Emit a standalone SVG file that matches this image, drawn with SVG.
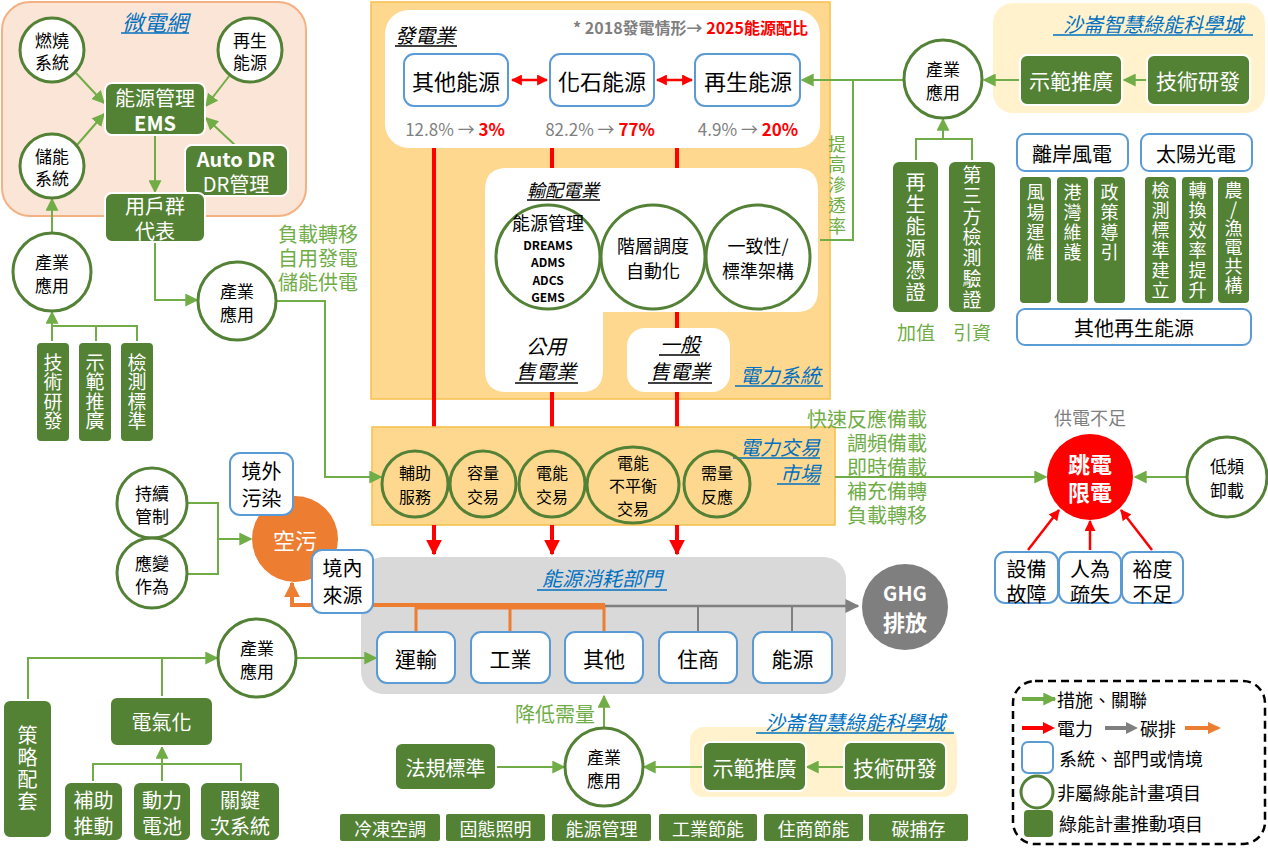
<svg xmlns="http://www.w3.org/2000/svg" width="1268" height="851" viewBox="0 0 1268 851">
<style>
text{font-family:'Noto Sans CJK TC','Noto Sans',sans-serif;dominant-baseline:central;text-anchor:middle;fill:#000}
.v{writing-mode:vertical-rl;text-orientation:upright}
.w{fill:#fff}.gt{fill:#70ad47}.gy{fill:#7f7f7f}.rd{fill:#ff0000}
.bt{fill:#0070c0;font-style:italic}.it{font-style:italic}.b{font-weight:bold}
.f12{font-size:12px}.f16{font-size:16px}.f17{font-size:17px}.f18{font-size:18px}.f19{font-size:19px}.f20{font-size:20px}.f21{font-size:21px}.f22{font-size:22px}
.gb{fill:#548235;stroke:#fff;stroke-width:2}
.gc{fill:#fff;stroke:#538135;stroke-width:3}
.gco{fill:none;stroke:#538135;stroke-width:3}
.bb{fill:#fff;stroke:#5b9bd5;stroke-width:2}
.gl{fill:none;stroke:#70ad47;stroke-width:2}
.ga{fill:none;stroke:#70ad47;stroke-width:2;marker-end:url(#ag)}
.ra{fill:none;stroke:#ff0000;stroke-width:4;marker-end:url(#ar)}
.ra2{fill:none;stroke:#ff0000;stroke-width:2.5;marker-end:url(#ar2)}
.ulb{stroke:#0070c0;stroke-width:1.5}
.ulk{stroke:#000;stroke-width:1.5}
.sa{text-anchor:start}.ea{text-anchor:end}
</style>
<defs>
<marker id="ag" viewBox="0 0 10 10" refX="9" refY="5" markerWidth="13" markerHeight="13" markerUnits="userSpaceOnUse" orient="auto-start-reverse"><path d="M0,0 L10,5 L0,10z" fill="#70ad47"/></marker>
<marker id="ar" viewBox="0 0 10 10" refX="9" refY="5" markerWidth="16" markerHeight="16" markerUnits="userSpaceOnUse" orient="auto-start-reverse"><path d="M0,0 L10,5 L0,10z" fill="#ff0000"/></marker>
<marker id="ar2" viewBox="0 0 10 10" refX="9" refY="5" markerWidth="11" markerHeight="11" markerUnits="userSpaceOnUse" orient="auto-start-reverse"><path d="M0,0 L10,5 L0,10z" fill="#ff0000"/></marker>
<marker id="agr" viewBox="0 0 10 10" refX="9" refY="5" markerWidth="14" markerHeight="14" markerUnits="userSpaceOnUse" orient="auto-start-reverse"><path d="M0,0 L10,5 L0,10z" fill="#7f7f7f"/></marker>
<marker id="ao" viewBox="0 0 10 10" refX="9" refY="5" markerWidth="16" markerHeight="16" markerUnits="userSpaceOnUse" orient="auto-start-reverse"><path d="M0,0 L10,5 L0,10z" fill="#ed7d31"/></marker>
</defs>

<!-- Background panels -->
<g id="microgrid">
<rect x="2" y="2" width="304" height="214" rx="28" fill="#fbe5d6" stroke="#f4b183" stroke-width="2"/>
<text x="155" y="21" class="bt f22">微電網</text>
<line x1="121" y1="33" x2="189" y2="33" class="ulb"/>
</g>
<g id="power-system">
<rect x="371" y="2" width="459" height="397" fill="#ffd88f" stroke="#f6c04c" stroke-width="1.5"/>
<line x1="434" y1="148" x2="434" y2="428" stroke="#ff0000" stroke-width="4"/>
<line x1="552" y1="148" x2="552" y2="428" stroke="#ff0000" stroke-width="4"/>
<line x1="677" y1="148" x2="677" y2="428" stroke="#ff0000" stroke-width="4"/>
<rect x="385" y="10" width="435" height="138" rx="24" fill="#fff"/>
<path d="M507,168 H796 Q818,168 818,190 V290 Q818,312 796,312 H603 V370 Q603,392 581,392 H507 Q485,392 485,370 V190 Q485,168 507,168 Z" fill="#fff"/>
<rect x="627" y="328" width="103" height="64" rx="18" fill="#fff"/>
<text x="395" y="34" class="it f20 sa">發電業</text>
<line x1="395" y1="46" x2="457" y2="46" class="ulk"/>
<text x="808" y="27" class="f16 b ea"><tspan class="gy">* 2018發電情形→ </tspan><tspan class="rd">2025能源配比</tspan></text>
<text x="563" y="189" class="it f18">輸配電業</text>
<line x1="527" y1="200" x2="600" y2="200" class="ulk"/>
<text x="546" y="345" class="it f20">公用</text>
<text x="546" y="370" class="it f20">售電業</text>
<line x1="515" y1="383" x2="578" y2="383" class="ulk"/>
<text x="680" y="343" class="it f20">一般</text>
<line x1="659" y1="355" x2="700" y2="355" class="ulk"/>
<text x="680" y="370" class="it f20">售電業</text>
<line x1="648" y1="383" x2="712" y2="383" class="ulk"/>
<text x="780" y="374" class="bt f20">電力系統</text>
<line x1="735" y1="386" x2="823" y2="386" class="ulb"/>
</g>
<g id="shalun-top">
<rect x="993" y="3" width="272" height="110" rx="20" fill="#fff2cc"/>
<text x="1153" y="23" class="bt f20">沙崙智慧綠能科學城</text>
<line x1="1053" y1="35" x2="1253" y2="35" class="ulb"/>
</g>
<g id="market">
<rect x="372" y="427" width="463" height="98" fill="#ffd88f" stroke="#f5bf47" stroke-width="1.5"/>
<text x="820" y="446" class="bt f20 ea">電力交易</text>
<line x1="733" y1="458" x2="820" y2="458" class="ulb"/>
<text x="820" y="472" class="bt f20 ea">市場</text>
<line x1="777" y1="484" x2="820" y2="484" class="ulb"/>
</g>
<g id="consumption">
<rect x="361" y="557" width="485" height="137" rx="22" fill="#d9d9d9"/>
<text x="602" y="577" class="bt f20">能源消耗部門</text>
<line x1="537" y1="590" x2="667" y2="590" class="ulb"/>
</g>
<g id="shalun-bottom">
<rect x="690" y="727" width="267" height="70" rx="14" fill="#fff2cc"/>
<text x="855" y="721" class="bt f20">沙崙智慧綠能科學城</text>
<line x1="756" y1="733" x2="954" y2="733" class="ulb"/>
</g>

<!-- connectors -->
<g id="connectors">
<line x1="76" y1="73" x2="104" y2="103" class="ga"/>
<line x1="230" y1="75" x2="206" y2="106" class="ga"/>
<line x1="77" y1="145" x2="104" y2="114" class="ga"/>
<line x1="236" y1="146" x2="206" y2="118" class="ga"/>
<line x1="155" y1="135" x2="155" y2="192" class="ga"/>
<line x1="52" y1="233" x2="52" y2="199" class="ga"/>
<polyline points="52,342 52,326 137,326 137,342" class="gl"/>
<line x1="96" y1="326" x2="96" y2="342" class="gl"/>
<line x1="52" y1="326" x2="52" y2="312" class="ga"/>
<polyline points="155,242 155,300 197,300" class="ga"/>
<polyline points="276,301 325,301 325,477 381,477" class="ga"/>
<line x1="512" y1="80" x2="547" y2="80" class="ra2" marker-start="url(#ar2)"/>
<line x1="657" y1="80" x2="692" y2="80" class="ra2" marker-start="url(#ar2)"/>
<line x1="904" y1="80" x2="802" y2="80" class="ga"/>
<polyline points="853,80 853,240 820,240" class="gl"/>
<line x1="1147" y1="80" x2="1124" y2="80" class="ga"/>
<line x1="1020" y1="80" x2="984" y2="80" class="ga"/>
<polyline points="916,161 916,139 972,139 972,161" class="gl"/>
<line x1="943" y1="139" x2="943" y2="119" class="ga"/>
<line x1="434" y1="525" x2="434" y2="554" class="ra"/>
<line x1="552" y1="525" x2="552" y2="554" class="ra"/>
<line x1="677" y1="525" x2="677" y2="554" class="ra"/>
<line x1="835" y1="477" x2="1046" y2="477" class="ga"/>
<line x1="1187" y1="477" x2="1135" y2="477" class="ga"/>
<line x1="1028" y1="550" x2="1059" y2="510" class="ra2"/>
<line x1="1090" y1="550" x2="1090" y2="521" class="ra2"/>
<line x1="1152" y1="550" x2="1121" y2="510" class="ra2"/>
<polyline points="187,503 218,503 218,574 187,574" class="gl"/>
<line x1="218" y1="539" x2="251" y2="539" class="ga"/>
<line x1="605" y1="606" x2="858" y2="606" stroke="#7f7f7f" stroke-width="2.5" marker-end="url(#agr)"/>
<line x1="698" y1="606" x2="698" y2="632" stroke="#7f7f7f" stroke-width="2"/>
<line x1="792" y1="606" x2="792" y2="632" stroke="#7f7f7f" stroke-width="2"/>
<polyline points="416,632 416,608 604,608 604,632" fill="none" stroke="#ed7d31" stroke-width="3"/>
<line x1="510" y1="608" x2="510" y2="632" stroke="#ed7d31" stroke-width="3"/>
<polyline points="605,605 292,605 292,583" fill="none" stroke="#ed7d31" stroke-width="4" marker-end="url(#ao)"/>
<polyline points="28,700 28,658 217,658" class="ga"/>
<line x1="162" y1="697" x2="162" y2="658" class="gl"/>
<line x1="297" y1="658" x2="376" y2="658" class="ga"/>
<polyline points="93,782 93,764 241,764 241,782" class="gl"/>
<line x1="162" y1="782" x2="162" y2="764" class="gl"/>
<line x1="162" y1="764" x2="162" y2="747" class="ga"/>
<line x1="604" y1="728" x2="604" y2="696" class="ga"/>
<line x1="496" y1="767" x2="564" y2="767" class="ga"/>
<line x1="844" y1="767" x2="807" y2="767" class="ga"/>
<line x1="703" y1="767" x2="644" y2="767" class="ga"/>
</g>

<!-- Microgrid nodes -->
<g id="mg-burn"><circle cx="52" cy="50" r="32" class="gc"/><text x="52" y="39" class="f17">燃燒</text><text x="52" y="61" class="f17">系統</text></g>
<g id="mg-renew"><circle cx="250" cy="50" r="32" class="gc"/><text x="250" y="39" class="f17">再生</text><text x="250" y="61" class="f17">能源</text></g>
<g id="mg-storage"><circle cx="52" cy="166" r="32" class="gc"/><text x="52" y="155" class="f17">儲能</text><text x="52" y="177" class="f17">系統</text></g>
<g id="mg-ems"><rect x="105" y="83" width="100" height="52" rx="7" class="gb"/><text x="155" y="97" class="w f20">能源管理</text><text x="155" y="122" class="w f20 b">EMS</text></g>
<g id="mg-autodr"><rect x="185" y="145" width="103" height="51" rx="7" class="gb"/><text x="236" y="158" class="w f20 b">Auto DR</text><text x="236" y="183" class="w f20">DR管理</text></g>
<g id="mg-users"><rect x="105" y="193" width="100" height="49" rx="7" class="gb"/><text x="155" y="205" class="w f20">用戶群</text><text x="155" y="230" class="w f20">代表</text></g>

<!-- Left industry -->
<g id="ind-left"><circle cx="52" cy="272" r="39" class="gc"/><text x="52" y="261" class="f17">產業</text><text x="52" y="284" class="f17">應用</text></g>
<g id="box-tech1"><rect x="36" y="342" width="34" height="100" rx="5" class="gb"/><text x="53" y="392" class="v w f19" letter-spacing="0.5">技術研發</text></g>
<g id="box-demo1"><rect x="78" y="342" width="34" height="100" rx="5" class="gb"/><text x="95" y="392" class="v w f19" letter-spacing="0.5">示範推廣</text></g>
<g id="box-std1"><rect x="120" y="342" width="34" height="100" rx="5" class="gb"/><text x="137" y="392" class="v w f19" letter-spacing="0.5">檢測標準</text></g>
<g id="ind-mid"><circle cx="237" cy="301" r="39" class="gc"/><text x="237" y="290" class="f17">產業</text><text x="237" y="313" class="f17">應用</text></g>
<g id="lbl-load">
<text x="278" y="233" class="gt f20 sa">負載轉移</text>
<text x="278" y="257" class="gt f20 sa">自用發電</text>
<text x="278" y="281" class="gt f20 sa">儲能供電</text>
</g>

<!-- Power system nodes -->
<g id="gen-other"><rect x="404" y="54" width="104" height="52" rx="10" class="bb"/><text x="456" y="80" class="f22">其他能源</text>
<text x="455" y="128" class="f17"><tspan class="gy">12.8% → </tspan><tspan class="rd b">3%</tspan></text></g>
<g id="gen-fossil"><rect x="550" y="54" width="104" height="52" rx="10" class="bb"/><text x="602" y="80" class="f22">化石能源</text>
<text x="600" y="128" class="f17"><tspan class="gy">82.2% → </tspan><tspan class="rd b">77%</tspan></text></g>
<g id="gen-renew"><rect x="695" y="54" width="105" height="52" rx="10" class="bb"/><text x="748" y="80" class="f22">再生能源</text>
<text x="748" y="128" class="f17"><tspan class="gy">4.9% → </tspan><tspan class="rd b">20%</tspan></text></g>
<g id="td-ems"><circle cx="548" cy="257" r="52" class="gc"/>
<text x="548" y="222" class="f18">能源管理</text>
<text x="548" y="244" class="f12 b">DREAMS</text><text x="548" y="261" class="f12 b">ADMS</text><text x="548" y="279" class="f12 b">ADCS</text><text x="548" y="296" class="f12 b">GEMS</text></g>
<g id="td-auto"><circle cx="653" cy="257" r="52" class="gc"/><text x="653" y="245" class="f18">階層調度</text><text x="653" y="270" class="f18">自動化</text></g>
<g id="td-std"><circle cx="758" cy="257" r="52" class="gc"/><text x="758" y="245" class="f18">一致性/</text><text x="758" y="270" class="f18">標準架構</text></g>
<text id="lbl-pen" x="837" y="186" class="v gt f18" letter-spacing="2.5">提高滲透率</text>

<!-- Top right nodes -->
<g id="demo-top"><rect x="1020" y="55" width="102" height="50" rx="7" class="gb"/><text x="1071" y="80" class="w f21">示範推廣</text></g>
<g id="tech-top"><rect x="1147" y="55" width="103" height="50" rx="7" class="gb"/><text x="1198" y="80" class="w f21">技術研發</text></g>
<g id="ind-top"><circle cx="943" cy="79" r="39" class="gc"/><text x="943" y="68" class="f17">產業</text><text x="943" y="91" class="f17">應用</text></g>
<g id="box-cert"><rect x="892" y="161" width="47" height="152" rx="7" class="gb"/><text x="915.5" y="238" class="v w f20" letter-spacing="2">再生能源憑證</text></g>
<g id="box-test"><rect x="948" y="161" width="48" height="152" rx="7" class="gb"/><text x="972" y="238" class="v w f19" letter-spacing="1.8">第三方檢測驗證</text></g>
<text x="916" y="331" class="gt f19">加值</text>
<text x="972" y="331" class="gt f19">引資</text>
<g id="offshore"><rect x="1017" y="134" width="111" height="37" rx="8" class="bb"/><text x="1072" y="153" class="f20">離岸風電</text></g>
<g id="solar"><rect x="1141" y="134" width="111" height="37" rx="8" class="bb"/><text x="1196" y="153" class="f20">太陽光電</text></g>
<g id="v-wind1"><rect x="1019" y="176" width="33" height="128" rx="5" class="gb"/><text x="1035.5" y="223" class="v w f18" letter-spacing="2">風場運維</text></g>
<g id="v-wind2"><rect x="1056" y="176" width="33" height="128" rx="5" class="gb"/><text x="1072.5" y="223" class="v w f18" letter-spacing="2">港灣維護</text></g>
<g id="v-wind3"><rect x="1093" y="176" width="33" height="128" rx="5" class="gb"/><text x="1109.5" y="223" class="v w f18" letter-spacing="2">政策導引</text></g>
<g id="v-solar1"><rect x="1144" y="176" width="33" height="128" rx="5" class="gb"/><text x="1160.5" y="241" class="v w f18" letter-spacing="2">檢測標準建立</text></g>
<g id="v-solar2"><rect x="1181" y="176" width="33" height="128" rx="5" class="gb"/><text x="1197.5" y="241" class="v w f18" letter-spacing="2">轉換效率提升</text></g>
<g id="v-solar3"><rect x="1217" y="176" width="33" height="128" rx="5" class="gb"/><text x="1233.5" y="238" class="v w f18" letter-spacing="1">農/漁電共構</text></g>
<g id="other-renew"><rect x="1017" y="309" width="234" height="36" rx="8" class="bb"/><text x="1134" y="327" class="f20">其他再生能源</text></g>

<!-- Market nodes -->
<g id="mk-aux"><circle cx="415" cy="484" r="33" class="gco"/><text x="415" y="472" class="f16">輔助</text><text x="415" y="496" class="f16">服務</text></g>
<g id="mk-cap"><circle cx="483" cy="484" r="33" class="gco"/><text x="483" y="472" class="f16">容量</text><text x="483" y="496" class="f16">交易</text></g>
<g id="mk-energy"><circle cx="552" cy="484" r="33" class="gco"/><text x="552" y="472" class="f16">電能</text><text x="552" y="496" class="f16">交易</text></g>
<g id="mk-imb"><ellipse cx="633" cy="485" rx="46" ry="38" class="gco"/><text x="633" y="462" class="f16">電能</text><text x="633" y="485" class="f16">不平衡</text><text x="633" y="508" class="f16">交易</text></g>
<g id="mk-dr"><circle cx="717" cy="484" r="33" class="gco"/><text x="717" y="472" class="f16">需量</text><text x="717" y="496" class="f16">反應</text></g>
<g id="lbl-reserve">
<text x="927" y="418" class="gt f20 ea">快速反應備載</text>
<text x="927" y="442" class="gt f20 ea">調頻備載</text>
<text x="927" y="466" class="gt f20 ea">即時備載</text>
<text x="927" y="490" class="gt f20 ea">補充備轉</text>
<text x="927" y="514" class="gt f20 ea">負載轉移</text>
</g>

<!-- Blackout -->
<text x="1090" y="417" class="gy f18">供電不足</text>
<g id="blackout"><circle cx="1090" cy="477" r="43" fill="#ff0000"/><text x="1090" y="463" class="w f22 b">跳電</text><text x="1090" y="491" class="w f22 b">限電</text></g>
<g id="ufls"><circle cx="1227" cy="477" r="40" class="gc"/><text x="1227" y="465" class="f17">低頻</text><text x="1227" y="489" class="f17">卸載</text></g>
<g id="c-equip"><rect x="995" y="552" width="63" height="51" rx="10" class="bb"/><text x="1026.5" y="568" class="f20">設備</text><text x="1026.5" y="593" class="f20">故障</text></g>
<g id="c-human"><rect x="1059" y="552" width="62" height="51" rx="10" class="bb"/><text x="1090" y="568" class="f20">人為</text><text x="1090" y="593" class="f20">疏失</text></g>
<g id="c-margin"><rect x="1122" y="552" width="61" height="51" rx="10" class="bb"/><text x="1152.5" y="568" class="f20">裕度</text><text x="1152.5" y="593" class="f20">不足</text></g>

<!-- Air pollution -->
<g id="airpol"><circle cx="295" cy="539" r="43" fill="#ed7d31"/><text x="295" y="539" class="w f22">空污</text></g>
<g id="ext-pol"><rect x="230" y="453" width="63" height="62" rx="10" class="bb"/><text x="261.5" y="470" class="f20">境外</text><text x="261.5" y="497" class="f20">污染</text></g>
<g id="int-src"><rect x="312" y="550" width="61" height="63" rx="10" class="bb"/><text x="342.5" y="567" class="f20">境內</text><text x="342.5" y="594" class="f20">來源</text></g>
<g id="control"><circle cx="152" cy="503" r="35" class="gc"/><text x="152" y="492" class="f17">持續</text><text x="152" y="515" class="f17">管制</text></g>
<g id="response"><circle cx="152" cy="573" r="35" class="gc"/><text x="152" y="562" class="f17">應變</text><text x="152" y="585" class="f17">作為</text></g>

<!-- Sectors -->
<g id="ghg"><circle cx="905" cy="607" r="43" fill="#7f7f7f"/><text x="905" y="592" class="w f20 b">GHG</text><text x="905" y="621" class="w f22 b">排放</text></g>
<g id="s-transport"><rect x="377" y="632" width="78" height="51" rx="10" class="bb"/><text x="416" y="658" class="f21">運輸</text></g>
<g id="s-industry"><rect x="471" y="632" width="79" height="51" rx="10" class="bb"/><text x="510.5" y="658" class="f21">工業</text></g>
<g id="s-other"><rect x="565" y="632" width="78" height="51" rx="10" class="bb"/><text x="604" y="658" class="f21">其他</text></g>
<g id="s-res"><rect x="659" y="632" width="78" height="51" rx="10" class="bb"/><text x="698" y="658" class="f21">住商</text></g>
<g id="s-energy"><rect x="753" y="632" width="79" height="51" rx="10" class="bb"/><text x="792.5" y="658" class="f21">能源</text></g>

<!-- Bottom left -->
<g id="ind-bl"><circle cx="257" cy="658" r="39" class="gc"/><text x="257" y="647" class="f17">產業</text><text x="257" y="670" class="f17">應用</text></g>
<g id="strategy"><rect x="3" y="700" width="49" height="138" rx="7" class="gb"/><text x="27.5" y="769" class="v w f20" letter-spacing="2">策略配套</text></g>
<g id="electrify"><rect x="110" y="697" width="103" height="49" rx="7" class="gb"/><text x="161.5" y="721" class="w f20">電氣化</text></g>
<g id="subsidy"><rect x="64" y="782" width="59" height="59" rx="7" class="gb"/><text x="93.5" y="799" class="w f20">補助</text><text x="93.5" y="825" class="w f20">推動</text></g>
<g id="battery"><rect x="133" y="782" width="58" height="59" rx="7" class="gb"/><text x="162" y="799" class="w f20">動力</text><text x="162" y="825" class="w f20">電池</text></g>
<g id="subsys"><rect x="200" y="782" width="80" height="59" rx="7" class="gb"/><text x="240" y="799" class="w f20">關鍵</text><text x="240" y="825" class="w f20">次系統</text></g>

<!-- Bottom middle -->
<text x="555" y="713" class="gt f20">降低需量</text>
<g id="ind-bm"><circle cx="604" cy="767" r="39" class="gc"/><text x="604" y="756" class="f17">產業</text><text x="604" y="779" class="f17">應用</text></g>
<g id="regulation"><rect x="395" y="743" width="101" height="47" rx="7" class="gb"/><text x="445.5" y="767" class="w f20">法規標準</text></g>
<g id="demo-bm"><rect x="703" y="742" width="103" height="49" rx="7" class="gb"/><text x="754.5" y="767" class="w f21">示範推廣</text></g>
<g id="tech-bm"><rect x="844" y="742" width="102" height="49" rx="7" class="gb"/><text x="895" y="767" class="w f21">技術研發</text></g>
<g id="bottom-row">
<rect x="339" y="813" width="102" height="29" rx="3" class="gb"/><text x="390" y="828" class="w f18">冷凍空調</text>
<rect x="445" y="813" width="101" height="29" rx="3" class="gb"/><text x="495.5" y="828" class="w f18">固態照明</text>
<rect x="551" y="813" width="101" height="29" rx="3" class="gb"/><text x="601.5" y="828" class="w f18">能源管理</text>
<rect x="658" y="813" width="100" height="29" rx="3" class="gb"/><text x="708" y="828" class="w f18">工業節能</text>
<rect x="763" y="813" width="101" height="29" rx="3" class="gb"/><text x="813.5" y="828" class="w f18">住商節能</text>
<rect x="868" y="813" width="101" height="29" rx="3" class="gb"/><text x="918.5" y="828" class="w f18">碳捕存</text>
</g>

<!-- Legend -->
<g id="legend">
<rect x="1013" y="681" width="252" height="163" rx="22" fill="#fff" stroke="#000" stroke-width="2.5" stroke-dasharray="8,5"/>
<line x1="1022" y1="699" x2="1055" y2="699" stroke="#70ad47" stroke-width="4" marker-end="url(#ag)"/>
<text x="1057" y="699" class="f18 sa">措施、關聯</text>
<line x1="1022" y1="728" x2="1045" y2="728" stroke="#ff0000" stroke-width="4"/>
<path d="M1043,722 L1055,728 L1043,734z" fill="#ff0000"/>
<text x="1057" y="728" class="f18 sa">電力</text>
<line x1="1105" y1="728" x2="1128" y2="728" stroke="#7f7f7f" stroke-width="4"/>
<path d="M1126,722 L1138,728 L1126,734z" fill="#7f7f7f"/>
<text x="1140" y="728" class="f18 sa">碳排</text>
<line x1="1185" y1="728" x2="1210" y2="728" stroke="#ed7d31" stroke-width="4"/>
<path d="M1208,722 L1221,728 L1208,734z" fill="#ed7d31"/>
<rect x="1022" y="742" width="31" height="31" rx="6" class="bb"/>
<text x="1059" y="758" class="f18 sa">系統、部門或情境</text>
<circle cx="1037" cy="792" r="16" class="gc"/>
<text x="1057" y="792" class="f18 sa">非屬綠能計畫項目</text>
<rect x="1024" y="810" width="29" height="27" rx="4" fill="#548235"/>
<text x="1059" y="823" class="f18 sa">綠能計畫推動項目</text>
</g>
</svg>
